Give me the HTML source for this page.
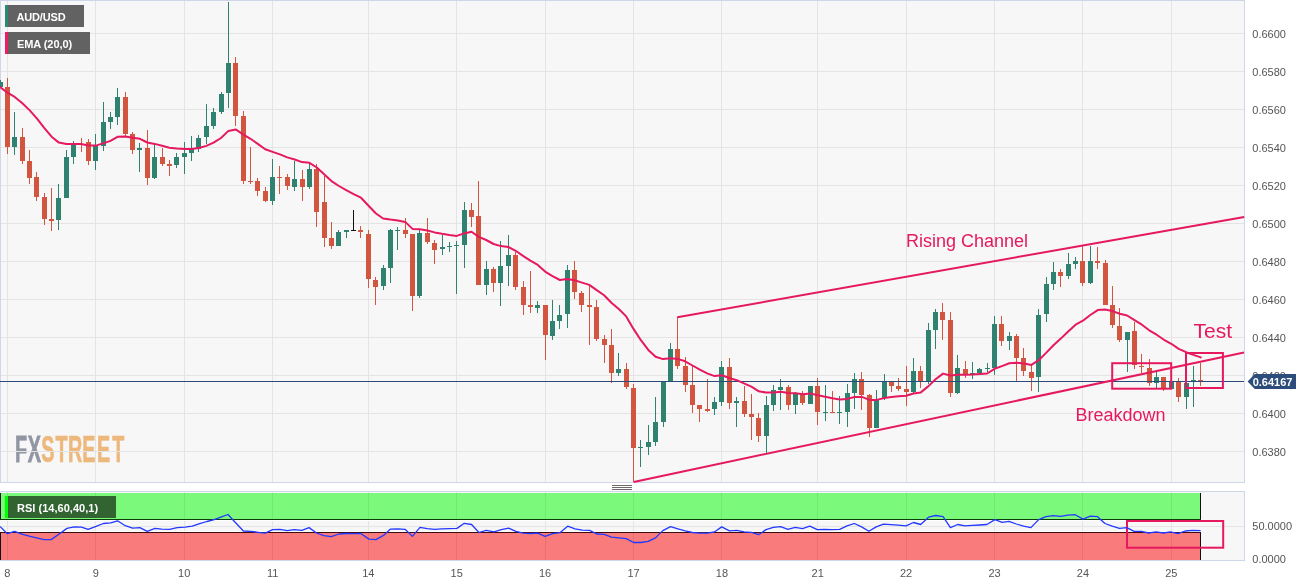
<!DOCTYPE html>
<html><head><meta charset="utf-8"><title>AUD/USD chart</title>
<style>html,body{margin:0;padding:0;background:#fff;width:1315px;height:586px;overflow:hidden}svg{display:block}</style></head>
<body>
<svg width="1315" height="586" viewBox="0 0 1315 586" font-family="Liberation Sans, Arial, sans-serif">
<rect width="1315" height="586" fill="#fff"/>
<rect x="0" y="0" width="1245" height="483" fill="#f7f7f7"/>
<rect x="0" y="491" width="1245" height="70" fill="#f7f7f7"/>
<text transform="matrix(0.55 0 0 1.0141 0 461.75)" x="27.41 50.45 75.12 100.73 123.46 149.77 176.59 204.00" y="0" font-family="Liberation Sans, Arial, sans-serif" font-weight="bold" font-size="36" fill="#9296a2" stroke="#9296a2" stroke-width="0.7" vector-effect="non-scaling-stroke">FX<tspan fill="#edb87c" stroke="#edb87c">STREET</tspan></text>
<path d="M7.5 1V482M7.5 492V560" stroke="#e4e4e4" stroke-width="1"/>
<path d="M95.5 1V482M95.5 492V560" stroke="#e4e4e4" stroke-width="1"/>
<path d="M184.5 1V482M184.5 492V560" stroke="#e4e4e4" stroke-width="1"/>
<path d="M272.5 1V482M272.5 492V560" stroke="#e4e4e4" stroke-width="1"/>
<path d="M368.5 1V482M368.5 492V560" stroke="#e4e4e4" stroke-width="1"/>
<path d="M456.5 1V482M456.5 492V560" stroke="#e4e4e4" stroke-width="1"/>
<path d="M545.5 1V482M545.5 492V560" stroke="#e4e4e4" stroke-width="1"/>
<path d="M633.5 1V482M633.5 492V560" stroke="#e4e4e4" stroke-width="1"/>
<path d="M721.5 1V482M721.5 492V560" stroke="#e4e4e4" stroke-width="1"/>
<path d="M817.5 1V482M817.5 492V560" stroke="#e4e4e4" stroke-width="1"/>
<path d="M906.5 1V482M906.5 492V560" stroke="#e4e4e4" stroke-width="1"/>
<path d="M994.5 1V482M994.5 492V560" stroke="#e4e4e4" stroke-width="1"/>
<path d="M1082.5 1V482M1082.5 492V560" stroke="#e4e4e4" stroke-width="1"/>
<path d="M1171.5 1V482M1171.5 492V560" stroke="#e4e4e4" stroke-width="1"/>
<path d="M1 33.5H1244" stroke="#e4e4e4" stroke-width="1"/>
<path d="M1 71.5H1244" stroke="#e4e4e4" stroke-width="1"/>
<path d="M1 109.5H1244" stroke="#e4e4e4" stroke-width="1"/>
<path d="M1 147.5H1244" stroke="#e4e4e4" stroke-width="1"/>
<path d="M1 185.5H1244" stroke="#e4e4e4" stroke-width="1"/>
<path d="M1 223.5H1244" stroke="#e4e4e4" stroke-width="1"/>
<path d="M1 261.5H1244" stroke="#e4e4e4" stroke-width="1"/>
<path d="M1 299.5H1244" stroke="#e4e4e4" stroke-width="1"/>
<path d="M1 337.5H1244" stroke="#e4e4e4" stroke-width="1"/>
<path d="M1 375.5H1244" stroke="#e4e4e4" stroke-width="1"/>
<path d="M1 413.5H1244" stroke="#e4e4e4" stroke-width="1"/>
<path d="M1 451.5H1244" stroke="#e4e4e4" stroke-width="1"/>
<path d="M1 526.5H1244" stroke="#e4e4e4" stroke-width="1"/>
<rect x="0" y="493" width="1201" height="26.5" fill="#7bf97b"/>
<rect x="0" y="532.5" width="1201" height="27.5" fill="#fa7b7b"/>
<path d="M7.5 493V519M7.5 533V560" stroke="#000" stroke-opacity="0.07" stroke-width="1"/>
<path d="M95.5 493V519M95.5 533V560" stroke="#000" stroke-opacity="0.07" stroke-width="1"/>
<path d="M184.5 493V519M184.5 533V560" stroke="#000" stroke-opacity="0.07" stroke-width="1"/>
<path d="M272.5 493V519M272.5 533V560" stroke="#000" stroke-opacity="0.07" stroke-width="1"/>
<path d="M368.5 493V519M368.5 533V560" stroke="#000" stroke-opacity="0.07" stroke-width="1"/>
<path d="M456.5 493V519M456.5 533V560" stroke="#000" stroke-opacity="0.07" stroke-width="1"/>
<path d="M545.5 493V519M545.5 533V560" stroke="#000" stroke-opacity="0.07" stroke-width="1"/>
<path d="M633.5 493V519M633.5 533V560" stroke="#000" stroke-opacity="0.07" stroke-width="1"/>
<path d="M721.5 493V519M721.5 533V560" stroke="#000" stroke-opacity="0.07" stroke-width="1"/>
<path d="M817.5 493V519M817.5 533V560" stroke="#000" stroke-opacity="0.07" stroke-width="1"/>
<path d="M906.5 493V519M906.5 533V560" stroke="#000" stroke-opacity="0.07" stroke-width="1"/>
<path d="M994.5 493V519M994.5 533V560" stroke="#000" stroke-opacity="0.07" stroke-width="1"/>
<path d="M1082.5 493V519M1082.5 533V560" stroke="#000" stroke-opacity="0.07" stroke-width="1"/>
<path d="M1171.5 493V519M1171.5 533V560" stroke="#000" stroke-opacity="0.07" stroke-width="1"/>
<path d="M0.5 493V519.5M0.5 532.5V560M1200.5 493V519.5M1200.5 532.5V560" stroke="#111" stroke-width="1"/>
<path d="M1 520.5H1200M1 531.5H1200" stroke="#fff" stroke-width="1"/>
<path d="M0 519.5H1201" stroke="#0b3d0b" stroke-width="1"/><path d="M0 532.5H1201" stroke="#3d0b0b" stroke-width="1"/>
<path d="M0 0.5H1245M0.5 0V483M0 482.5H1245M1244.5 0V483" stroke="#cfd6ea" stroke-width="1" fill="none"/>
<path d="M0 491.5H1245M1244.5 491V561M0 560.5H1245" stroke="#cfd6ea" stroke-width="1" fill="none"/>
<rect x="0" y="80" width="1" height="7" fill="#2f8170"/><rect x="-2" y="82" width="5" height="5" fill="#2f8170"/>
<rect x="7" y="78" width="1" height="76" fill="#d1553f"/><rect x="5" y="87" width="5" height="60" fill="#d1553f"/>
<rect x="14" y="112" width="1" height="43" fill="#2f8170"/><rect x="12" y="137" width="5" height="10" fill="#2f8170"/>
<rect x="22" y="128" width="1" height="36" fill="#d1553f"/><rect x="20" y="137" width="5" height="24" fill="#d1553f"/>
<rect x="29" y="150" width="1" height="34" fill="#d1553f"/><rect x="27" y="161" width="5" height="17" fill="#d1553f"/>
<rect x="36" y="172" width="1" height="29" fill="#d1553f"/><rect x="34" y="177" width="5" height="20" fill="#d1553f"/>
<rect x="44" y="193" width="1" height="32" fill="#d1553f"/><rect x="42" y="197" width="5" height="22" fill="#d1553f"/>
<rect x="51" y="188" width="1" height="43" fill="#d1553f"/><rect x="49" y="219" width="5" height="2" fill="#d1553f"/>
<rect x="58" y="184" width="1" height="46" fill="#2f8170"/><rect x="56" y="198" width="5" height="22" fill="#2f8170"/>
<rect x="66" y="150" width="1" height="48" fill="#2f8170"/><rect x="64" y="157" width="5" height="41" fill="#2f8170"/>
<rect x="73" y="141" width="1" height="23" fill="#2f8170"/><rect x="71" y="144" width="5" height="13" fill="#2f8170"/>
<rect x="81" y="138" width="1" height="14" fill="#d1553f"/><rect x="79" y="144" width="5" height="1" fill="#d1553f"/>
<rect x="88" y="139" width="1" height="26" fill="#d1553f"/><rect x="86" y="142" width="5" height="19" fill="#d1553f"/>
<rect x="95" y="134" width="1" height="36" fill="#2f8170"/><rect x="93" y="146" width="5" height="15" fill="#2f8170"/>
<rect x="103" y="102" width="1" height="49" fill="#2f8170"/><rect x="101" y="122" width="5" height="24" fill="#2f8170"/>
<rect x="110" y="112" width="1" height="17" fill="#2f8170"/><rect x="108" y="117" width="5" height="5" fill="#2f8170"/>
<rect x="117" y="88" width="1" height="37" fill="#2f8170"/><rect x="115" y="97" width="5" height="20" fill="#2f8170"/>
<rect x="125" y="92" width="1" height="44" fill="#d1553f"/><rect x="123" y="97" width="5" height="37" fill="#d1553f"/>
<rect x="132" y="132" width="1" height="22" fill="#d1553f"/><rect x="130" y="134" width="5" height="16" fill="#d1553f"/>
<rect x="139" y="143" width="1" height="29" fill="#2f8170"/><rect x="137" y="148" width="5" height="2" fill="#2f8170"/>
<rect x="147" y="130" width="1" height="55" fill="#d1553f"/><rect x="145" y="148" width="5" height="30" fill="#d1553f"/>
<rect x="154" y="145" width="1" height="34" fill="#2f8170"/><rect x="152" y="157" width="5" height="21" fill="#2f8170"/>
<rect x="162" y="148" width="1" height="18" fill="#d1553f"/><rect x="160" y="157" width="5" height="7" fill="#d1553f"/>
<rect x="169" y="160" width="1" height="16" fill="#d1553f"/><rect x="167" y="164" width="5" height="2" fill="#d1553f"/>
<rect x="176" y="153" width="1" height="15" fill="#2f8170"/><rect x="174" y="157" width="5" height="8" fill="#2f8170"/>
<rect x="184" y="142" width="1" height="32" fill="#2f8170"/><rect x="182" y="153" width="5" height="4" fill="#2f8170"/>
<rect x="191" y="136" width="1" height="25" fill="#2f8170"/><rect x="189" y="149" width="5" height="4" fill="#2f8170"/>
<rect x="198" y="135" width="1" height="17" fill="#2f8170"/><rect x="196" y="138" width="5" height="11" fill="#2f8170"/>
<rect x="206" y="104" width="1" height="40" fill="#2f8170"/><rect x="204" y="126" width="5" height="11" fill="#2f8170"/>
<rect x="213" y="108" width="1" height="21" fill="#2f8170"/><rect x="211" y="112" width="5" height="14" fill="#2f8170"/>
<rect x="221" y="92" width="1" height="22" fill="#2f8170"/><rect x="219" y="94" width="5" height="18" fill="#2f8170"/>
<rect x="228" y="2" width="1" height="106" fill="#2f8170"/><rect x="226" y="63" width="5" height="30" fill="#2f8170"/>
<rect x="235" y="57" width="1" height="69" fill="#d1553f"/><rect x="233" y="63" width="5" height="53" fill="#d1553f"/>
<rect x="243" y="111" width="1" height="73" fill="#d1553f"/><rect x="241" y="116" width="5" height="65" fill="#d1553f"/>
<rect x="250" y="147" width="1" height="37" fill="#d1553f"/><rect x="248" y="181" width="5" height="1" fill="#d1553f"/>
<rect x="257" y="178" width="1" height="18" fill="#d1553f"/><rect x="255" y="181" width="5" height="10" fill="#d1553f"/>
<rect x="265" y="187" width="1" height="15" fill="#d1553f"/><rect x="263" y="191" width="5" height="10" fill="#d1553f"/>
<rect x="272" y="159" width="1" height="46" fill="#2f8170"/><rect x="270" y="177" width="5" height="24" fill="#2f8170"/>
<rect x="279" y="166" width="1" height="28" fill="#d1553f"/><rect x="277" y="177" width="5" height="1" fill="#d1553f"/>
<rect x="287" y="174" width="1" height="16" fill="#d1553f"/><rect x="285" y="177" width="5" height="9" fill="#d1553f"/>
<rect x="294" y="161" width="1" height="30" fill="#2f8170"/><rect x="292" y="179" width="5" height="8" fill="#2f8170"/>
<rect x="302" y="170" width="1" height="31" fill="#d1553f"/><rect x="300" y="179" width="5" height="8" fill="#d1553f"/>
<rect x="309" y="164" width="1" height="25" fill="#2f8170"/><rect x="307" y="169" width="5" height="18" fill="#2f8170"/>
<rect x="316" y="164" width="1" height="63" fill="#d1553f"/><rect x="314" y="169" width="5" height="43" fill="#d1553f"/>
<rect x="324" y="176" width="1" height="71" fill="#d1553f"/><rect x="322" y="202" width="5" height="36" fill="#d1553f"/>
<rect x="331" y="222" width="1" height="27" fill="#d1553f"/><rect x="329" y="238" width="5" height="8" fill="#d1553f"/>
<rect x="338" y="230" width="1" height="16" fill="#2f8170"/><rect x="336" y="232" width="5" height="14" fill="#2f8170"/>
<rect x="346" y="230" width="1" height="8" fill="#2f8170"/><rect x="344" y="230" width="5" height="2" fill="#2f8170"/>
<rect x="353" y="210" width="1" height="21" fill="#111"/><rect x="351" y="230" width="5" height="1" fill="#111"/>
<rect x="360" y="226" width="1" height="12" fill="#d1553f"/><rect x="358" y="230" width="5" height="2" fill="#d1553f"/>
<rect x="368" y="230" width="1" height="58" fill="#d1553f"/><rect x="366" y="234" width="5" height="45" fill="#d1553f"/>
<rect x="375" y="277" width="1" height="28" fill="#d1553f"/><rect x="373" y="280" width="5" height="7" fill="#d1553f"/>
<rect x="383" y="265" width="1" height="25" fill="#2f8170"/><rect x="381" y="268" width="5" height="18" fill="#2f8170"/>
<rect x="390" y="229" width="1" height="54" fill="#2f8170"/><rect x="388" y="230" width="5" height="38" fill="#2f8170"/>
<rect x="397" y="227" width="1" height="23" fill="#2f8170"/><rect x="395" y="230" width="5" height="1" fill="#2f8170"/>
<rect x="405" y="218" width="1" height="20" fill="#d1553f"/><rect x="403" y="230" width="5" height="4" fill="#d1553f"/>
<rect x="412" y="234" width="1" height="77" fill="#d1553f"/><rect x="410" y="234" width="5" height="62" fill="#d1553f"/>
<rect x="419" y="230" width="1" height="68" fill="#2f8170"/><rect x="417" y="233" width="5" height="63" fill="#2f8170"/>
<rect x="427" y="218" width="1" height="26" fill="#d1553f"/><rect x="425" y="233" width="5" height="9" fill="#d1553f"/>
<rect x="434" y="240" width="1" height="24" fill="#d1553f"/><rect x="432" y="243" width="5" height="7" fill="#d1553f"/>
<rect x="442" y="235" width="1" height="20" fill="#2f8170"/><rect x="440" y="247" width="5" height="2" fill="#2f8170"/>
<rect x="449" y="242" width="1" height="10" fill="#2f8170"/><rect x="447" y="246" width="5" height="1" fill="#2f8170"/>
<rect x="456" y="241" width="1" height="53" fill="#2f8170"/><rect x="454" y="245" width="5" height="1" fill="#2f8170"/>
<rect x="464" y="202" width="1" height="66" fill="#2f8170"/><rect x="462" y="210" width="5" height="35" fill="#2f8170"/>
<rect x="471" y="203" width="1" height="24" fill="#d1553f"/><rect x="469" y="210" width="5" height="7" fill="#d1553f"/>
<rect x="478" y="181" width="1" height="104" fill="#d1553f"/><rect x="476" y="216" width="5" height="69" fill="#d1553f"/>
<rect x="486" y="261" width="1" height="34" fill="#2f8170"/><rect x="484" y="269" width="5" height="16" fill="#2f8170"/>
<rect x="493" y="267" width="1" height="25" fill="#d1553f"/><rect x="491" y="269" width="5" height="14" fill="#d1553f"/>
<rect x="500" y="241" width="1" height="65" fill="#2f8170"/><rect x="498" y="266" width="5" height="17" fill="#2f8170"/>
<rect x="508" y="235" width="1" height="51" fill="#2f8170"/><rect x="506" y="255" width="5" height="11" fill="#2f8170"/>
<rect x="515" y="252" width="1" height="38" fill="#d1553f"/><rect x="513" y="255" width="5" height="32" fill="#d1553f"/>
<rect x="523" y="281" width="1" height="34" fill="#d1553f"/><rect x="521" y="287" width="5" height="18" fill="#d1553f"/>
<rect x="530" y="271" width="1" height="42" fill="#d1553f"/><rect x="528" y="305" width="5" height="2" fill="#d1553f"/>
<rect x="537" y="301" width="1" height="12" fill="#2f8170"/><rect x="535" y="305" width="5" height="3" fill="#2f8170"/>
<rect x="545" y="305" width="1" height="55" fill="#d1553f"/><rect x="543" y="305" width="5" height="30" fill="#d1553f"/>
<rect x="552" y="300" width="1" height="40" fill="#2f8170"/><rect x="550" y="321" width="5" height="15" fill="#2f8170"/>
<rect x="559" y="305" width="1" height="24" fill="#2f8170"/><rect x="557" y="315" width="5" height="6" fill="#2f8170"/>
<rect x="567" y="265" width="1" height="63" fill="#2f8170"/><rect x="565" y="270" width="5" height="44" fill="#2f8170"/>
<rect x="574" y="261" width="1" height="38" fill="#d1553f"/><rect x="572" y="270" width="5" height="22" fill="#d1553f"/>
<rect x="581" y="291" width="1" height="21" fill="#d1553f"/><rect x="579" y="293" width="5" height="12" fill="#d1553f"/>
<rect x="589" y="284" width="1" height="61" fill="#d1553f"/><rect x="587" y="305" width="5" height="2" fill="#d1553f"/>
<rect x="596" y="300" width="1" height="41" fill="#d1553f"/><rect x="594" y="307" width="5" height="32" fill="#d1553f"/>
<rect x="604" y="335" width="1" height="28" fill="#d1553f"/><rect x="602" y="339" width="5" height="6" fill="#d1553f"/>
<rect x="611" y="329" width="1" height="54" fill="#d1553f"/><rect x="609" y="345" width="5" height="28" fill="#d1553f"/>
<rect x="618" y="353" width="1" height="23" fill="#2f8170"/><rect x="616" y="369" width="5" height="4" fill="#2f8170"/>
<rect x="626" y="363" width="1" height="26" fill="#d1553f"/><rect x="624" y="369" width="5" height="18" fill="#d1553f"/>
<rect x="633" y="384" width="1" height="98" fill="#d1553f"/><rect x="631" y="388" width="5" height="60" fill="#d1553f"/>
<rect x="640" y="440" width="1" height="27" fill="#2f8170"/><rect x="638" y="447" width="5" height="1" fill="#2f8170"/>
<rect x="648" y="425" width="1" height="30" fill="#2f8170"/><rect x="646" y="442" width="5" height="5" fill="#2f8170"/>
<rect x="655" y="397" width="1" height="49" fill="#2f8170"/><rect x="653" y="422" width="5" height="20" fill="#2f8170"/>
<rect x="663" y="382" width="1" height="45" fill="#2f8170"/><rect x="661" y="382" width="5" height="40" fill="#2f8170"/>
<rect x="670" y="343" width="1" height="39" fill="#2f8170"/><rect x="668" y="349" width="5" height="33" fill="#2f8170"/>
<rect x="677" y="317" width="1" height="52" fill="#d1553f"/><rect x="675" y="349" width="5" height="17" fill="#d1553f"/>
<rect x="685" y="357" width="1" height="35" fill="#d1553f"/><rect x="683" y="366" width="5" height="19" fill="#d1553f"/>
<rect x="692" y="365" width="1" height="48" fill="#d1553f"/><rect x="690" y="385" width="5" height="20" fill="#d1553f"/>
<rect x="699" y="405" width="1" height="17" fill="#d1553f"/><rect x="697" y="405" width="5" height="4" fill="#d1553f"/>
<rect x="707" y="379" width="1" height="33" fill="#d1553f"/><rect x="705" y="409" width="5" height="2" fill="#d1553f"/>
<rect x="714" y="397" width="1" height="18" fill="#2f8170"/><rect x="712" y="402" width="5" height="7" fill="#2f8170"/>
<rect x="721" y="361" width="1" height="45" fill="#2f8170"/><rect x="719" y="367" width="5" height="35" fill="#2f8170"/>
<rect x="729" y="358" width="1" height="51" fill="#d1553f"/><rect x="727" y="367" width="5" height="36" fill="#d1553f"/>
<rect x="736" y="397" width="1" height="30" fill="#2f8170"/><rect x="734" y="401" width="5" height="2" fill="#2f8170"/>
<rect x="744" y="386" width="1" height="31" fill="#d1553f"/><rect x="742" y="401" width="5" height="13" fill="#d1553f"/>
<rect x="751" y="394" width="1" height="46" fill="#d1553f"/><rect x="749" y="414" width="5" height="3" fill="#d1553f"/>
<rect x="758" y="413" width="1" height="29" fill="#d1553f"/><rect x="756" y="418" width="5" height="18" fill="#d1553f"/>
<rect x="766" y="396" width="1" height="57" fill="#2f8170"/><rect x="764" y="405" width="5" height="31" fill="#2f8170"/>
<rect x="773" y="385" width="1" height="26" fill="#2f8170"/><rect x="771" y="390" width="5" height="15" fill="#2f8170"/>
<rect x="780" y="379" width="1" height="31" fill="#2f8170"/><rect x="778" y="387" width="5" height="3" fill="#2f8170"/>
<rect x="788" y="385" width="1" height="25" fill="#d1553f"/><rect x="786" y="387" width="5" height="18" fill="#d1553f"/>
<rect x="795" y="392" width="1" height="22" fill="#2f8170"/><rect x="793" y="394" width="5" height="11" fill="#2f8170"/>
<rect x="802" y="391" width="1" height="14" fill="#d1553f"/><rect x="800" y="394" width="5" height="9" fill="#d1553f"/>
<rect x="810" y="386" width="1" height="18" fill="#2f8170"/><rect x="808" y="386" width="5" height="18" fill="#2f8170"/>
<rect x="817" y="378" width="1" height="47" fill="#d1553f"/><rect x="815" y="386" width="5" height="26" fill="#d1553f"/>
<rect x="825" y="385" width="1" height="36" fill="#2f8170"/><rect x="823" y="412" width="5" height="1" fill="#2f8170"/>
<rect x="832" y="391" width="1" height="22" fill="#d1553f"/><rect x="830" y="412" width="5" height="1" fill="#d1553f"/>
<rect x="839" y="396" width="1" height="28" fill="#2f8170"/><rect x="837" y="412" width="5" height="1" fill="#2f8170"/>
<rect x="847" y="384" width="1" height="43" fill="#2f8170"/><rect x="845" y="393" width="5" height="19" fill="#2f8170"/>
<rect x="854" y="373" width="1" height="36" fill="#2f8170"/><rect x="852" y="379" width="5" height="14" fill="#2f8170"/>
<rect x="861" y="372" width="1" height="38" fill="#d1553f"/><rect x="859" y="379" width="5" height="16" fill="#d1553f"/>
<rect x="869" y="394" width="1" height="43" fill="#d1553f"/><rect x="867" y="395" width="5" height="33" fill="#d1553f"/>
<rect x="876" y="390" width="1" height="38" fill="#2f8170"/><rect x="874" y="400" width="5" height="28" fill="#2f8170"/>
<rect x="884" y="374" width="1" height="26" fill="#2f8170"/><rect x="882" y="381" width="5" height="17" fill="#2f8170"/>
<rect x="891" y="382" width="1" height="10" fill="#d1553f"/><rect x="889" y="382" width="5" height="4" fill="#d1553f"/>
<rect x="898" y="378" width="1" height="13" fill="#d1553f"/><rect x="896" y="386" width="5" height="3" fill="#d1553f"/>
<rect x="906" y="366" width="1" height="40" fill="#d1553f"/><rect x="904" y="389" width="5" height="3" fill="#d1553f"/>
<rect x="913" y="358" width="1" height="35" fill="#2f8170"/><rect x="911" y="371" width="5" height="21" fill="#2f8170"/>
<rect x="920" y="366" width="1" height="22" fill="#d1553f"/><rect x="918" y="371" width="5" height="11" fill="#d1553f"/>
<rect x="928" y="323" width="1" height="61" fill="#2f8170"/><rect x="926" y="330" width="5" height="52" fill="#2f8170"/>
<rect x="935" y="309" width="1" height="40" fill="#2f8170"/><rect x="933" y="312" width="5" height="18" fill="#2f8170"/>
<rect x="942" y="303" width="1" height="37" fill="#d1553f"/><rect x="940" y="312" width="5" height="8" fill="#d1553f"/>
<rect x="950" y="312" width="1" height="85" fill="#d1553f"/><rect x="948" y="320" width="5" height="73" fill="#d1553f"/>
<rect x="957" y="355" width="1" height="39" fill="#2f8170"/><rect x="955" y="368" width="5" height="25" fill="#2f8170"/>
<rect x="965" y="361" width="1" height="17" fill="#d1553f"/><rect x="963" y="369" width="5" height="5" fill="#d1553f"/>
<rect x="972" y="362" width="1" height="17" fill="#2f8170"/><rect x="970" y="373" width="5" height="1" fill="#2f8170"/>
<rect x="979" y="368" width="1" height="6" fill="#2f8170"/><rect x="977" y="369" width="5" height="4" fill="#2f8170"/>
<rect x="987" y="363" width="1" height="9" fill="#2f8170"/><rect x="985" y="368" width="5" height="1" fill="#2f8170"/>
<rect x="994" y="316" width="1" height="59" fill="#2f8170"/><rect x="992" y="324" width="5" height="44" fill="#2f8170"/>
<rect x="1001" y="316" width="1" height="30" fill="#d1553f"/><rect x="999" y="324" width="5" height="17" fill="#d1553f"/>
<rect x="1009" y="332" width="1" height="18" fill="#2f8170"/><rect x="1007" y="336" width="5" height="5" fill="#2f8170"/>
<rect x="1016" y="334" width="1" height="48" fill="#d1553f"/><rect x="1014" y="336" width="5" height="22" fill="#d1553f"/>
<rect x="1023" y="348" width="1" height="28" fill="#d1553f"/><rect x="1021" y="358" width="5" height="13" fill="#d1553f"/>
<rect x="1031" y="364" width="1" height="27" fill="#d1553f"/><rect x="1029" y="372" width="5" height="6" fill="#d1553f"/>
<rect x="1038" y="309" width="1" height="83" fill="#2f8170"/><rect x="1036" y="315" width="5" height="62" fill="#2f8170"/>
<rect x="1046" y="277" width="1" height="45" fill="#2f8170"/><rect x="1044" y="284" width="5" height="30" fill="#2f8170"/>
<rect x="1053" y="262" width="1" height="28" fill="#2f8170"/><rect x="1051" y="272" width="5" height="12" fill="#2f8170"/>
<rect x="1060" y="269" width="1" height="18" fill="#d1553f"/><rect x="1058" y="272" width="5" height="4" fill="#d1553f"/>
<rect x="1068" y="253" width="1" height="26" fill="#2f8170"/><rect x="1066" y="264" width="5" height="12" fill="#2f8170"/>
<rect x="1075" y="257" width="1" height="12" fill="#2f8170"/><rect x="1073" y="261" width="5" height="3" fill="#2f8170"/>
<rect x="1082" y="246" width="1" height="40" fill="#d1553f"/><rect x="1080" y="261" width="5" height="22" fill="#d1553f"/>
<rect x="1090" y="246" width="1" height="38" fill="#2f8170"/><rect x="1088" y="261" width="5" height="22" fill="#2f8170"/>
<rect x="1097" y="247" width="1" height="22" fill="#d1553f"/><rect x="1095" y="261" width="5" height="2" fill="#d1553f"/>
<rect x="1105" y="260" width="1" height="45" fill="#d1553f"/><rect x="1103" y="263" width="5" height="42" fill="#d1553f"/>
<rect x="1112" y="286" width="1" height="42" fill="#d1553f"/><rect x="1110" y="305" width="5" height="20" fill="#d1553f"/>
<rect x="1119" y="308" width="1" height="34" fill="#d1553f"/><rect x="1117" y="326" width="5" height="14" fill="#d1553f"/>
<rect x="1127" y="332" width="1" height="40" fill="#2f8170"/><rect x="1125" y="332" width="5" height="8" fill="#2f8170"/>
<rect x="1134" y="322" width="1" height="47" fill="#d1553f"/><rect x="1132" y="331" width="5" height="34" fill="#d1553f"/>
<rect x="1141" y="354" width="1" height="19" fill="#d1553f"/><rect x="1139" y="366" width="5" height="1" fill="#d1553f"/>
<rect x="1149" y="359" width="1" height="27" fill="#d1553f"/><rect x="1147" y="368" width="5" height="15" fill="#d1553f"/>
<rect x="1156" y="370" width="1" height="18" fill="#2f8170"/><rect x="1154" y="377" width="5" height="6" fill="#2f8170"/>
<rect x="1163" y="377" width="1" height="14" fill="#d1553f"/><rect x="1161" y="377" width="5" height="11" fill="#d1553f"/>
<rect x="1171" y="381" width="1" height="8" fill="#2f8170"/><rect x="1169" y="382" width="5" height="7" fill="#2f8170"/>
<rect x="1178" y="378" width="1" height="24" fill="#d1553f"/><rect x="1176" y="382" width="5" height="15" fill="#d1553f"/>
<rect x="1186" y="383" width="1" height="26" fill="#2f8170"/><rect x="1184" y="383" width="5" height="14" fill="#2f8170"/>
<rect x="1193" y="366" width="1" height="41" fill="#2f8170"/><rect x="1191" y="380" width="5" height="2" fill="#2f8170"/>
<rect x="1200" y="363" width="1" height="23" fill="#d1553f"/><rect x="1198" y="380" width="5" height="1" fill="#d1553f"/>
<path d="M0 381.5H1244" stroke="#2c4a7a" stroke-width="1"/>
<path d="M0.0 87.0 L7.4 92.7 L14.7 96.9 L22.1 103.0 L29.5 110.1 L36.8 118.3 L44.2 127.9 L51.6 136.7 L58.9 142.6 L66.3 144.0 L73.7 143.9 L81.0 144.0 L88.4 145.6 L95.8 145.6 L103.1 143.4 L110.5 140.9 L117.9 136.7 L125.2 136.5 L132.6 137.8 L140.0 138.8 L147.3 142.5 L154.7 143.9 L162.1 145.8 L169.4 147.7 L176.8 148.6 L184.2 149.0 L191.5 149.0 L198.9 148.0 L206.3 145.9 L213.6 142.7 L221.0 138.0 L228.4 130.9 L235.7 129.4 L243.1 134.3 L250.5 138.8 L257.8 143.9 L265.2 149.3 L272.6 151.9 L279.9 154.4 L287.3 157.4 L294.7 159.5 L302.0 162.1 L309.4 162.8 L316.8 167.5 L324.1 174.3 L331.5 181.1 L338.9 186.0 L346.2 190.2 L353.6 194.1 L361.0 197.7 L368.3 205.5 L375.7 213.2 L383.1 218.5 L390.4 219.6 L397.8 220.5 L405.2 221.9 L412.5 228.9 L419.9 229.3 L427.3 230.5 L434.6 232.4 L442.0 233.8 L449.4 235.0 L456.7 235.9 L464.1 233.4 L471.5 231.8 L478.8 236.9 L486.2 240.0 L493.6 244.0 L500.9 246.1 L508.3 247.0 L515.7 250.8 L523.0 255.9 L530.4 260.7 L537.8 264.9 L545.1 271.6 L552.5 276.2 L559.9 280.0 L567.2 279.1 L574.6 280.3 L582.0 282.6 L589.3 284.9 L596.7 290.1 L604.1 295.3 L611.4 302.7 L618.8 309.0 L626.2 316.4 L633.5 328.9 L640.9 340.2 L648.3 349.9 L655.6 356.8 L663.0 359.1 L670.4 358.2 L677.7 358.9 L685.1 361.3 L692.5 365.5 L699.8 369.6 L707.2 373.4 L714.6 376.1 L721.9 375.3 L729.3 378.0 L736.7 380.2 L744.0 383.4 L751.4 386.6 L758.8 391.3 L766.1 392.6 L773.5 392.4 L780.9 391.8 L788.2 393.1 L795.6 393.2 L803.0 394.2 L810.3 393.4 L817.7 395.2 L825.1 396.8 L832.4 398.3 L839.8 399.6 L847.2 398.9 L854.5 397.0 L861.9 396.9 L869.3 399.9 L876.6 399.9 L884.0 398.1 L891.4 397.0 L898.7 396.2 L906.1 395.8 L913.5 393.5 L920.8 392.4 L928.2 386.4 L935.6 379.3 L943.0 373.6 L950.3 375.5 L957.7 374.8 L965.1 374.7 L972.4 374.6 L979.8 374.1 L987.2 373.5 L994.5 368.8 L1001.9 366.1 L1009.3 363.3 L1016.6 362.8 L1024.0 363.6 L1031.4 364.9 L1038.7 360.2 L1046.1 352.9 L1053.5 345.2 L1060.8 338.6 L1068.2 331.5 L1075.6 324.7 L1082.9 320.7 L1090.3 315.0 L1097.7 310.1 L1105.0 309.6 L1112.4 311.1 L1119.8 313.8 L1127.1 315.5 L1134.5 320.2 L1141.9 324.7 L1149.2 330.3 L1156.6 334.7 L1164.0 339.8 L1171.3 343.8 L1178.7 348.9 L1186.1 352.2 L1193.4 354.9 L1200.8 357.4" stroke="#e6195f" stroke-width="2" fill="none" stroke-linejoin="round" stroke-linecap="round"/>
<path d="M677.3 317.3L1244.2 216.9" stroke="#e6195f" stroke-width="2" fill="none" stroke-linejoin="round"/>
<path d="M633.7 482L1244 352.5" stroke="#e6195f" stroke-width="2" fill="none"/>
<rect x="1112.2" y="363.2" width="59" height="25.5" stroke="#e6195f" stroke-width="2" fill="none"/>
<rect x="1186" y="353" width="36.9" height="35" stroke="#e6195f" stroke-width="2" fill="none"/>
<rect x="1127" y="521" width="96.2" height="26.7" stroke="#e6195f" stroke-width="2" fill="none"/>
<text x="905.9" y="247" font-size="18" fill="#e6195f">Rising Channel</text>
<text x="1075.4" y="421" font-size="18" fill="#e6195f">Breakdown</text>
<text x="1193.5" y="338" font-size="21" fill="#e6195f">Test</text>
<path d="M0.0 526.4 L7.3 533.7 L14.6 531.3 L21.9 534.2 L29.2 536.2 L36.5 537.9 L43.8 539.6 L51.1 539.6 L59.6 533.7 L66.9 528.4 L74.2 526.9 L81.5 527.1 L88.1 529.3 L96.1 526.4 L103.4 523.5 L110.7 522.8 L117.5 520.8 L125.3 525.7 L132.6 528.1 L139.9 527.6 L147.2 531.3 L155.0 528.4 L161.8 529.1 L169.6 529.3 L177.2 527.6 L185.0 527.1 L192.3 526.2 L199.6 523.7 L206.9 521.5 L214.2 519.6 L221.5 516.9 L228.0 514.5 L235.6 522.8 L243.4 531.0 L250.7 531.3 L258.0 532.3 L265.3 533.2 L272.6 529.6 L279.9 529.3 L287.2 530.6 L294.5 529.6 L301.8 530.3 L309.1 527.6 L316.5 533.0 L323.9 535.7 L331.2 536.6 L338.9 534.0 L346.2 533.5 L353.5 533.7 L360.8 533.5 L368.9 539.1 L375.9 539.6 L383.5 535.4 L390.5 529.1 L397.8 528.9 L405.1 529.3 L412.4 536.4 L420.0 527.4 L427.3 528.6 L434.6 529.3 L441.9 528.9 L449.2 528.6 L457.0 528.4 L464.3 523.3 L471.6 524.5 L478.9 532.5 L486.2 530.3 L494.0 531.8 L501.3 529.6 L508.6 528.1 L515.9 531.3 L523.2 533.2 L530.5 533.5 L537.8 533.2 L545.1 536.4 L552.6 533.7 L559.9 532.7 L567.7 526.2 L575.0 528.9 L582.3 530.1 L589.6 530.3 L596.9 534.0 L604.2 534.4 L611.5 537.1 L626.3 538.6 L633.6 542.5 L640.9 542.5 L648.2 541.3 L655.5 537.9 L662.8 530.6 L670.6 526.7 L677.9 528.9 L685.2 530.8 L692.5 532.5 L699.8 533.2 L707.1 533.2 L714.4 532.0 L721.7 526.9 L729.5 530.8 L736.8 530.3 L744.1 531.8 L751.4 532.3 L758.7 534.7 L766.0 529.6 L773.3 527.4 L780.6 526.7 L787.9 529.3 L795.2 527.4 L802.5 528.6 L809.8 526.2 L817.3 529.6 L824.6 529.3 L831.9 529.6 L839.7 529.3 L847.0 525.9 L854.3 523.5 L861.6 526.9 L868.9 531.3 L876.2 526.9 L883.5 524.2 L890.8 524.7 L898.1 525.2 L906.1 525.9 L913.4 522.5 L920.7 524.5 L928.5 517.2 L935.8 515.5 L943.1 516.7 L950.4 527.6 L957.7 524.5 L965.0 525.9 L972.3 525.4 L979.6 525.0 L986.9 524.5 L994.9 519.6 L1002.2 522.3 L1009.0 521.3 L1016.3 524.0 L1023.6 526.2 L1030.9 527.6 L1038.7 519.6 L1046.0 516.7 L1053.3 515.7 L1060.6 516.4 L1067.9 515.2 L1075.2 514.7 L1083.0 519.1 L1090.3 516.2 L1097.6 516.7 L1104.9 523.5 L1112.2 526.2 L1119.5 528.4 L1126.8 527.6 L1134.1 531.3 L1141.4 531.3 L1148.7 533.0 L1156.0 531.8 L1163.3 533.0 L1170.6 531.8 L1177.9 533.7 L1185.2 531.0 L1192.5 530.3 L1200.6 530.6" stroke="#2238ff" stroke-width="1.3" fill="none" stroke-linejoin="round"/>
<rect x="5" y="5" width="79" height="22" fill="#626262"/><rect x="5" y="5" width="3" height="22" fill="#2a8a76"/>
<text x="16.4" y="21" font-size="11" font-weight="bold" fill="#fff" textLength="49.2" lengthAdjust="spacing">AUD/USD</text>
<rect x="5" y="32" width="85" height="22" fill="#626262"/><rect x="5" y="32" width="3" height="22" fill="#e91e63"/>
<text x="16.9" y="48" font-size="11" font-weight="bold" fill="#fff" textLength="55.3" lengthAdjust="spacing">EMA (20,0)</text>
<rect x="5" y="496" width="111" height="22" fill="#316431"/><rect x="5" y="496" width="3" height="22" fill="#00ff00"/>
<text x="16.9" y="512" font-size="11" font-weight="bold" fill="#fff" textLength="81.3" lengthAdjust="spacing">RSI (14,60,40,1)</text>
<path d="M612 485.5H632M612 487.5H632M612 489.5H632" stroke="#6e6a68" stroke-width="1"/>
<text x="1252.3" y="37.9" font-size="11" fill="#555">0.6600</text>
<text x="1252.3" y="75.9" font-size="11" fill="#555">0.6580</text>
<text x="1252.3" y="113.9" font-size="11" fill="#555">0.6560</text>
<text x="1252.3" y="151.9" font-size="11" fill="#555">0.6540</text>
<text x="1252.3" y="189.9" font-size="11" fill="#555">0.6520</text>
<text x="1252.3" y="227.9" font-size="11" fill="#555">0.6500</text>
<text x="1252.3" y="265.9" font-size="11" fill="#555">0.6480</text>
<text x="1252.3" y="303.9" font-size="11" fill="#555">0.6460</text>
<text x="1252.3" y="341.9" font-size="11" fill="#555">0.6440</text>
<text x="1252.3" y="379.9" font-size="11" fill="#555">0.6420</text>
<text x="1252.3" y="417.9" font-size="11" fill="#555">0.6400</text>
<text x="1252.3" y="455.9" font-size="11" fill="#555">0.6380</text>
<text x="1252.3" y="529.8" font-size="11" fill="#555">50.0000</text>
<text x="1252.3" y="562.7" font-size="11" fill="#555">0.0000</text>
<path d="M1247.6 381.5L1254.8 374H1296V389H1254.8Z" fill="#2c4d7b"/>
<text x="1252.7" y="386.4" font-size="11" font-weight="bold" fill="#fff">0.64167</text>
<text x="7.4" y="577" font-size="11" fill="#555" text-anchor="middle">8</text>
<text x="95.8" y="577" font-size="11" fill="#555" text-anchor="middle">9</text>
<text x="184.2" y="577" font-size="11" fill="#555" text-anchor="middle">10</text>
<text x="272.6" y="577" font-size="11" fill="#555" text-anchor="middle">11</text>
<text x="368.3" y="577" font-size="11" fill="#555" text-anchor="middle">14</text>
<text x="456.7" y="577" font-size="11" fill="#555" text-anchor="middle">15</text>
<text x="545.1" y="577" font-size="11" fill="#555" text-anchor="middle">16</text>
<text x="633.5" y="577" font-size="11" fill="#555" text-anchor="middle">17</text>
<text x="721.9" y="577" font-size="11" fill="#555" text-anchor="middle">18</text>
<text x="817.7" y="577" font-size="11" fill="#555" text-anchor="middle">21</text>
<text x="906.1" y="577" font-size="11" fill="#555" text-anchor="middle">22</text>
<text x="994.5" y="577" font-size="11" fill="#555" text-anchor="middle">23</text>
<text x="1082.9" y="577" font-size="11" fill="#555" text-anchor="middle">24</text>
<text x="1171.3" y="577" font-size="11" fill="#555" text-anchor="middle">25</text>
</svg>
</body></html>
